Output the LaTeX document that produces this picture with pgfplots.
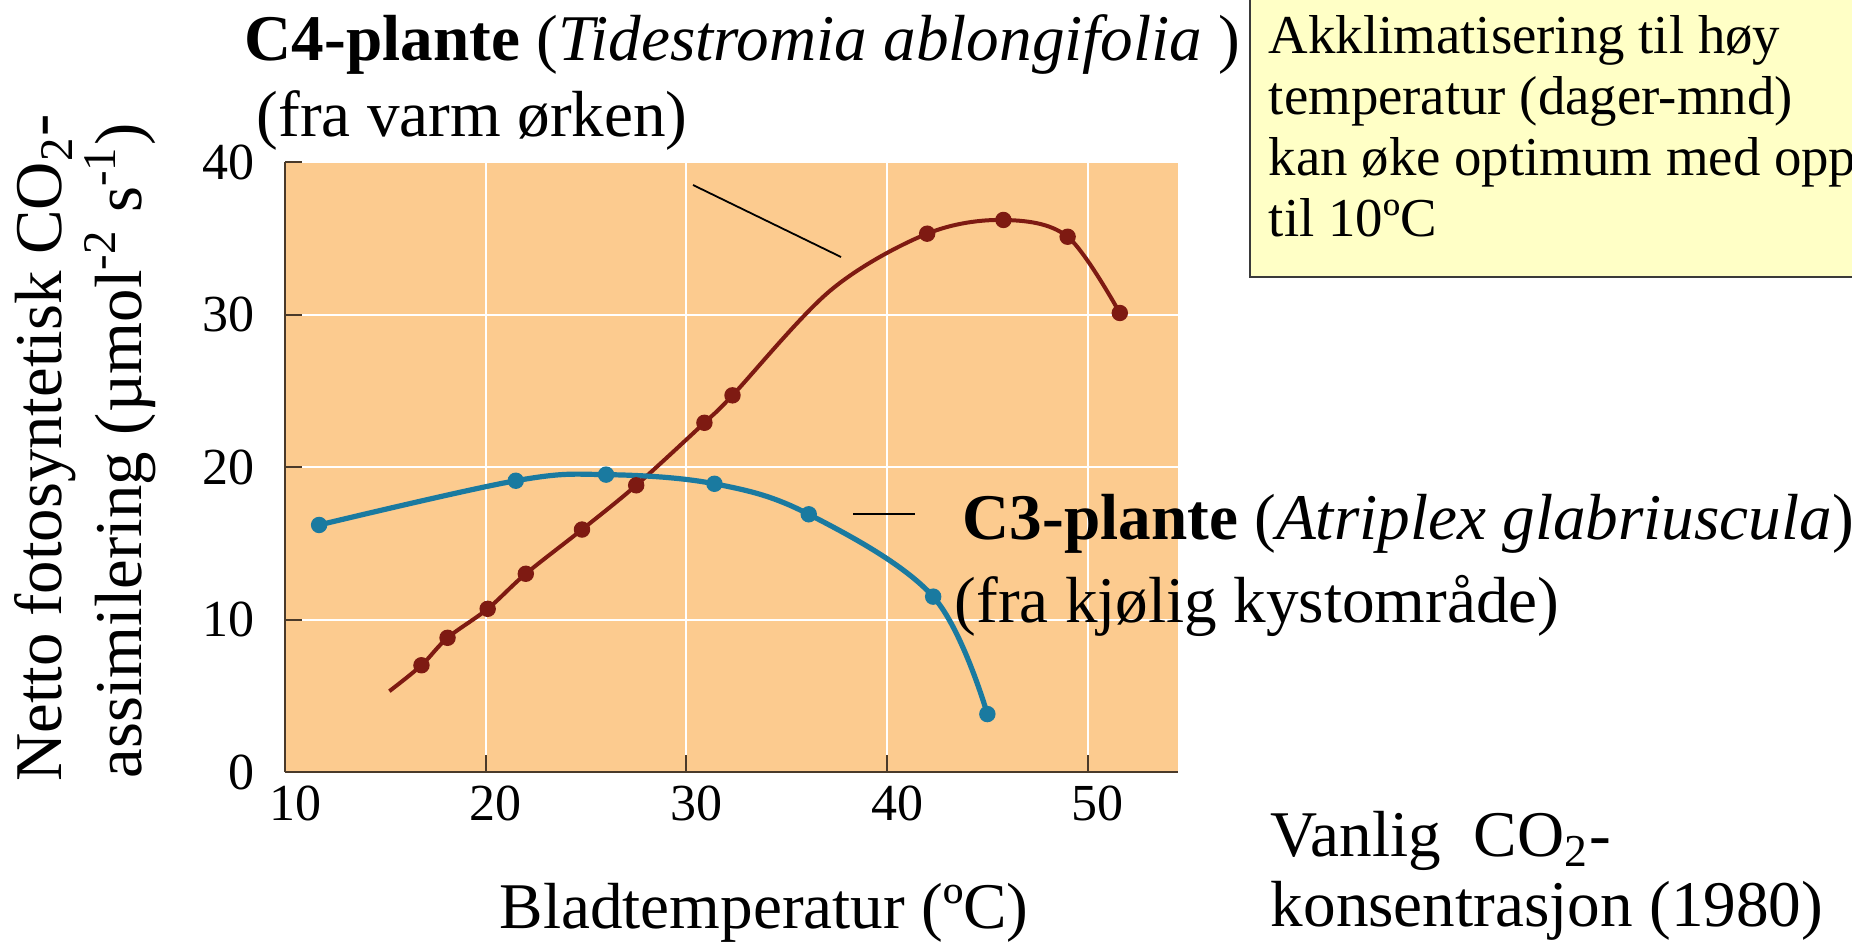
\documentclass[border=0pt]{standalone}
\usepackage{pgfplots}
\pgfplotsset{compat=1.18}
\usepackage{fontspec}
\setmainfont{Liberation Serif}
\definecolor{bgorange}{HTML}{FCCB8F}
\definecolor{c4red}{HTML}{7E1A12}
\definecolor{c3blue}{HTML}{1A7AA0}
\definecolor{axiscol}{HTML}{4A3A2A}
\definecolor{boxyellow}{HTML}{FFFFC6}
\definecolor{boxborder}{HTML}{3A3A3A}
\begin{document}
\begin{tikzpicture}
\begin{axis}[
  at={(71.25pt,-193pt)}, anchor=south west,
  scale only axis, width=223.25pt, height=152.5pt,
  xmin=10, xmax=54.5, ymin=0, ymax=40,
  axis background/.style={fill=bgorange},
  axis lines*=left,
  axis line style={draw=axiscol, line width=0.6pt},
  xtick={10,20,...,50}, ytick={0,10,...,40},
  tick align=inside, major tick length=4.2pt,
  tick style={draw=axiscol, line width=0.5pt},
  grid=major, grid style={white, line width=0.5pt},
  /pgf/number format/assume math mode=true,
  tick label style={font=\fontsize{13}{15}\selectfont},
  xticklabel style={xshift=2.5pt},
  yticklabel style={xshift=-4pt},
  clip=false,
]
\addplot[c4red, line width=1pt, smooth, tension=0.55] coordinates {
 (15.2,5.3) (16.8,7.0) (18.1,8.8) (20.1,10.7) (22.0,13.0) (24.8,15.9)
 (27.5,18.8) (30.9,22.9) (32.3,24.7) (37.2,31.6)
 (42.0,35.3) (45.8,36.2) (49.0,35.1) (51.6,30.1)};
\addplot[c4red, only marks, mark=*, mark size=1.85pt] coordinates {
 (16.8,7.0) (18.1,8.8) (20.1,10.7) (22.0,13.0) (24.8,15.9) (27.5,18.8)
 (30.9,22.9) (32.3,24.7) (42.0,35.3) (45.8,36.2) (49.0,35.1) (51.6,30.1)};
\addplot[c3blue, line width=1.3pt, smooth, tension=0.6] coordinates {
 (11.7,16.2) (21.5,19.1) (26.0,19.5) (31.4,18.9) (36.1,16.9) (42.3,11.5) (45.0,3.8)};
\addplot[c3blue, only marks, mark=*, mark size=1.85pt] coordinates {
 (11.7,16.2) (21.5,19.1) (26.0,19.5) (31.4,18.9) (36.1,16.9) (42.3,11.5) (45.0,3.8)};
\end{axis}
\begin{scope}[x=0.25pt,y=-0.25pt, every node/.style={inner sep=0pt}]
% yellow box
\draw[draw=boxborder, line width=0.6pt, fill=boxyellow] (1250,-20) rectangle (1880,277);
\begin{scope}[every node/.append style={anchor=base west, font=\fontsize{13.7}{15}\selectfont}]
\node at (1268,53) {Akklimatisering til høy};
\node at (1268,114) {temperatur (dager-mnd)};
\node at (1268,175) {kan øke optimum med opp};
\node at (1268,236) {til 10ºC};
\end{scope}
% texts
\begin{scope}[every node/.append style={font=\fontsize{16.3}{19}\selectfont}]
\node[anchor=base west] at (244,61) {\textbf{C4-plante} (\textit{Tidestromia ablongifolia} )};
\node[anchor=base west] at (256,136) {(fra varm ørken)};
\node[anchor=base west] at (962,539) {\textbf{C3-plante} (\textit{Atriplex glabriuscula})};
\node[anchor=base west] at (954,622) {(fra kjølig kystområde)};
\node[anchor=base] at (764,928) {Bladtemperatur (ºC)};
\node[anchor=base west] at (1270,856) {Vanlig\ \ CO\textsubscript{2}-};
\node[anchor=base west] at (1270,926) {konsentrasjon (1980)};
\end{scope}
\begin{scope}[every node/.append style={font=\fontsize{16.7}{19}\selectfont}]
\node[anchor=base, rotate=90] at (62,448) {Netto fotosyntetisk CO\textsubscript{2}-};
\node[anchor=base, rotate=90] at (141,451) {assimilering (µmol\textsuperscript{-2} s\textsuperscript{-1})};
\end{scope}
% leader lines
\draw[black, line width=0.45pt] (693,185) -- (841,257);
\draw[black, line width=0.45pt] (853,514) -- (915,514);
\end{scope}
\pgfresetboundingbox
\path[use as bounding box] (0,0) rectangle (463pt,-235.5pt);
\end{tikzpicture}
\end{document}
